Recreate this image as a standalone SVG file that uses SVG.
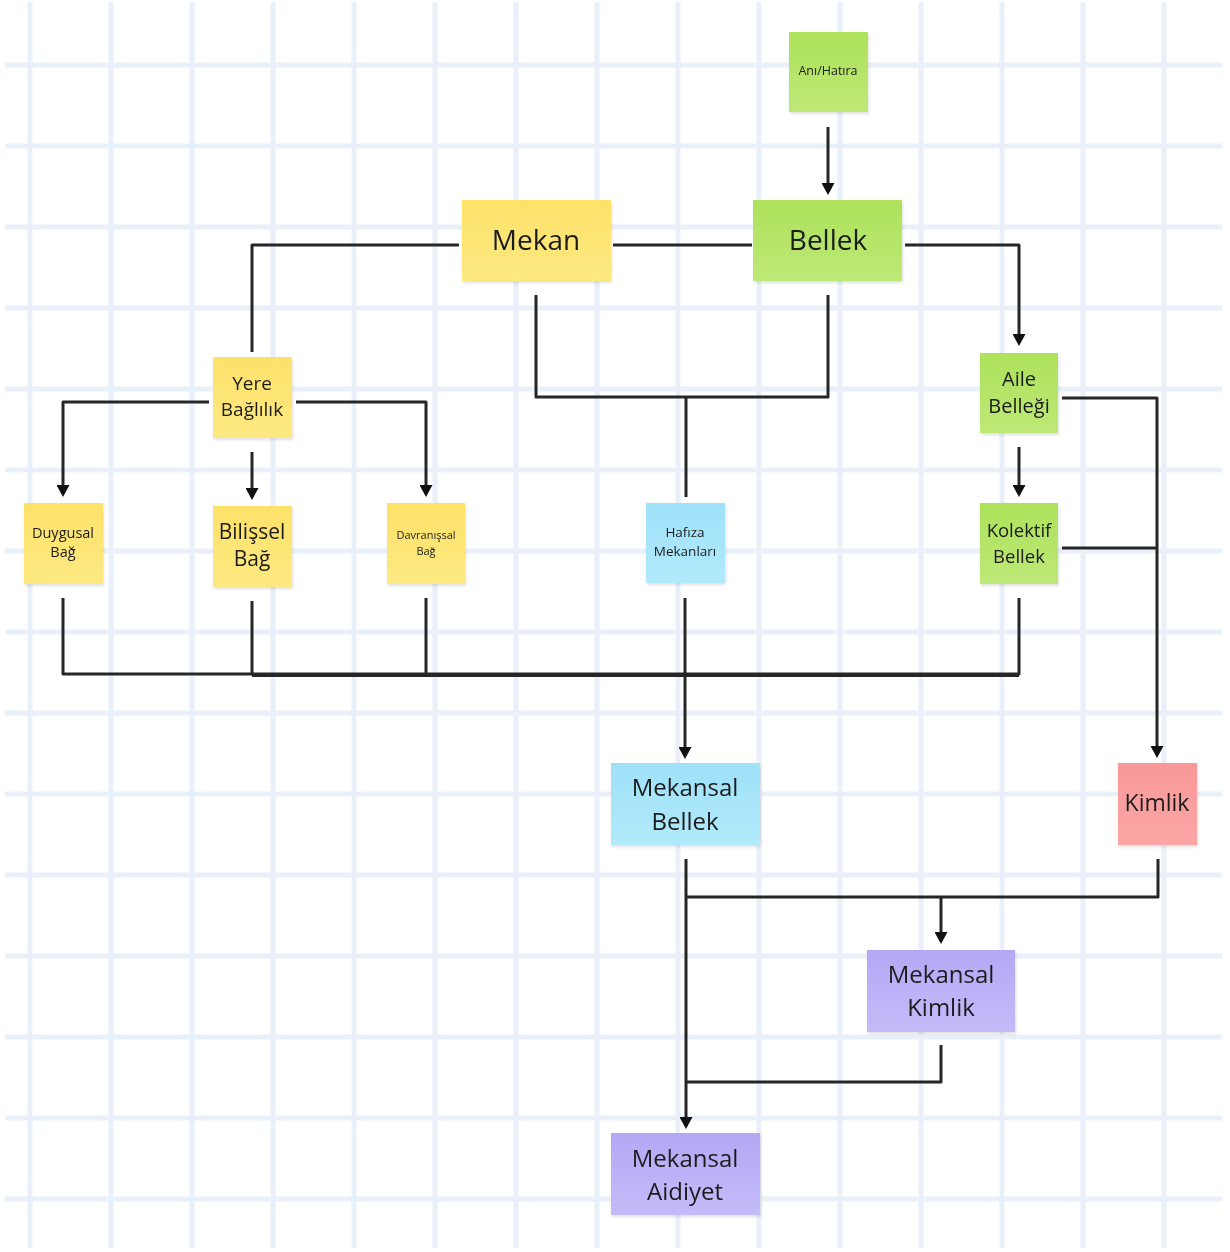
<svg xmlns="http://www.w3.org/2000/svg" width="1230" height="1252" viewBox="0 0 1230 1252">
<style>
.grid line{stroke:#e9f0f9;stroke-width:5}
.note{filter:url(#sh)}
.t{font-family:"Open Sans","Noto Sans","Liberation Sans",sans-serif;fill:#1c1c1c;text-anchor:middle;dominant-baseline:central}
.c path{fill:none;stroke:#262626;stroke-width:3;stroke-linejoin:round}
.c .a{marker-end:url(#ah)}
</style>
<defs>
<filter id="sh" x="-10%" y="-10%" width="130%" height="130%">
<feDropShadow dx="1" dy="2" stdDeviation="1.5" flood-color="#000" flood-opacity="0.12"/>
</filter>
<linearGradient id="gy" x1="0" y1="0" x2="0" y2="1"><stop offset="0" stop-color="#fde26a"/><stop offset="1" stop-color="#fde981"/></linearGradient>
<linearGradient id="gg" x1="0" y1="0" x2="0" y2="1"><stop offset="0" stop-color="#ade25a"/><stop offset="1" stop-color="#bde877"/></linearGradient>
<linearGradient id="gb" x1="0" y1="0" x2="0" y2="1"><stop offset="0" stop-color="#9fe1f8"/><stop offset="1" stop-color="#b1eafc"/></linearGradient>
<linearGradient id="gr" x1="0" y1="0" x2="0" y2="1"><stop offset="0" stop-color="#f89898"/><stop offset="1" stop-color="#fba6a6"/></linearGradient>
<linearGradient id="gp" x1="0" y1="0" x2="0" y2="1"><stop offset="0" stop-color="#b4a8f5"/><stop offset="1" stop-color="#c4bbf9"/></linearGradient>
<marker id="ah" viewBox="0 0 12 13" refX="9" refY="6.5" markerWidth="12" markerHeight="13" markerUnits="userSpaceOnUse" orient="auto">
<path d="M0,0 L12,6.5 L0,13 Z" fill="#111"/>
</marker>
</defs>
<rect width="1230" height="1252" fill="#ffffff"/>
<g class="grid">
<line x1="30" y1="2" x2="30" y2="1248"/><line x1="111" y1="2" x2="111" y2="1248"/><line x1="192" y1="2" x2="192" y2="1248"/><line x1="273" y1="2" x2="273" y2="1248"/><line x1="354" y1="2" x2="354" y2="1248"/><line x1="435" y1="2" x2="435" y2="1248"/><line x1="516" y1="2" x2="516" y2="1248"/><line x1="597" y1="2" x2="597" y2="1248"/><line x1="678" y1="2" x2="678" y2="1248"/><line x1="759" y1="2" x2="759" y2="1248"/><line x1="840" y1="2" x2="840" y2="1248"/><line x1="921" y1="2" x2="921" y2="1248"/><line x1="1002" y1="2" x2="1002" y2="1248"/><line x1="1083" y1="2" x2="1083" y2="1248"/><line x1="1164" y1="2" x2="1164" y2="1248"/>
<line x1="5" y1="65" x2="1222" y2="65"/><line x1="5" y1="146" x2="1222" y2="146"/><line x1="5" y1="227" x2="1222" y2="227"/><line x1="5" y1="308" x2="1222" y2="308"/><line x1="5" y1="389" x2="1222" y2="389"/><line x1="5" y1="470" x2="1222" y2="470"/><line x1="5" y1="551" x2="1222" y2="551"/><line x1="5" y1="632" x2="1222" y2="632"/><line x1="5" y1="713" x2="1222" y2="713"/><line x1="5" y1="794" x2="1222" y2="794"/><line x1="5" y1="875" x2="1222" y2="875"/><line x1="5" y1="956" x2="1222" y2="956"/><line x1="5" y1="1037" x2="1222" y2="1037"/><line x1="5" y1="1118" x2="1222" y2="1118"/><line x1="5" y1="1199" x2="1222" y2="1199"/>
</g>
<g class="c" id="connectors">
<path class="a" d="M828,127 V192"/>
<path d="M613,245 H752"/>
<path d="M459,245 H252 V352"/>
<path class="a" d="M905,245 H1019 V343"/>
<path d="M536,295 V397 H828 V295"/>
<path d="M686,397 V497"/>
<path class="a" d="M209,402 H63 V494"/>
<path class="a" d="M296,402 H426 V494"/>
<path class="a" d="M252,452 V497"/>
<path d="M63,598 V674 H1019 V598"/>
<path d="M252,601 V674"/>
<path d="M426,598 V674"/>
<path d="M252,675.5 H1019"/>
<path class="a" d="M685,598 V756"/>
<path class="a" d="M1019,447 V494"/>
<path class="a" d="M1062,398 H1157 V755"/>
<path d="M1062,548 H1157"/>
<path class="a" d="M686,859 V1126"/>
<path d="M1158,859 V897 H686"/>
<path class="a" d="M941,897 V941"/>
<path d="M941,1045 V1082 H686"/>
</g>
<g id="ani-hatira" class="note"><rect x="789" y="32" width="79" height="80" fill="url(#gg)"/><text class="t" x="828" y="70" font-size="12.5">Anı/Hatıra</text></g>
<g id="mekan" class="note"><rect x="462" y="200" width="149" height="81" fill="url(#gy)"/><text class="t" x="536" y="239" font-size="28">Mekan</text></g>
<g id="bellek" class="note"><rect x="753" y="200" width="149" height="81" fill="url(#gg)"/><text class="t" x="828" y="239" font-size="28">Bellek</text></g>
<g id="yere-baglilik" class="note"><rect x="213" y="357" width="79" height="81" fill="url(#gy)"/><text class="t" x="252" y="383" font-size="19">Yere</text><text class="t" x="252" y="409" font-size="19">Bağlılık</text></g>
<g id="duygusal-bag" class="note"><rect x="24" y="503" width="79" height="81" fill="url(#gy)"/><text class="t" x="63" y="532" font-size="14.5">Duygusal</text><text class="t" x="63" y="551" font-size="14.5">Bağ</text></g>
<g id="bilissel-bag" class="note"><rect x="213" y="506" width="79" height="81" fill="url(#gy)"/><text class="t" x="252" y="531" font-size="21">Bilişsel</text><text class="t" x="252" y="558" font-size="21">Bağ</text></g>
<g id="davranissal-bag" class="note"><rect x="387" y="503" width="78" height="81" fill="url(#gy)"/><text class="t" x="426" y="534" font-size="11">Davranışsal</text><text class="t" x="426" y="550" font-size="11">Bağ</text></g>
<g id="hafiza-mekanlari" class="note"><rect x="646" y="503" width="79" height="80" fill="url(#gb)"/><text class="t" x="685" y="532" font-size="13.5">Hafıza</text><text class="t" x="685" y="551" font-size="13.5">Mekanları</text></g>
<g id="aile-bellegi" class="note"><rect x="980" y="353" width="78" height="80" fill="url(#gg)"/><text class="t" x="1019" y="378" font-size="20">Aile</text><text class="t" x="1019" y="405" font-size="20">Belleği</text></g>
<g id="kolektif-bellek" class="note"><rect x="980" y="503" width="78" height="81" fill="url(#gg)"/><text class="t" x="1019" y="529" font-size="18.5">Kolektif</text><text class="t" x="1019" y="555" font-size="18.5">Bellek</text></g>
<g id="mekansal-bellek" class="note"><rect x="611" y="763" width="149" height="82" fill="url(#gb)"/><text class="t" x="685" y="786" font-size="24">Mekansal</text><text class="t" x="685" y="820" font-size="24">Bellek</text></g>
<g id="kimlik" class="note"><rect x="1118" y="763" width="79" height="82" fill="url(#gr)"/><text class="t" x="1157" y="802" font-size="23">Kimlik</text></g>
<g id="mekansal-kimlik" class="note"><rect x="867" y="950" width="148" height="82" fill="url(#gp)"/><text class="t" x="941" y="973" font-size="24">Mekansal</text><text class="t" x="941" y="1006" font-size="24">Kimlik</text></g>
<g id="mekansal-aidiyet" class="note"><rect x="611" y="1133" width="149" height="82" fill="url(#gp)"/><text class="t" x="685" y="1157" font-size="24">Mekansal</text><text class="t" x="685" y="1190" font-size="24">Aidiyet</text></g>
</svg>
